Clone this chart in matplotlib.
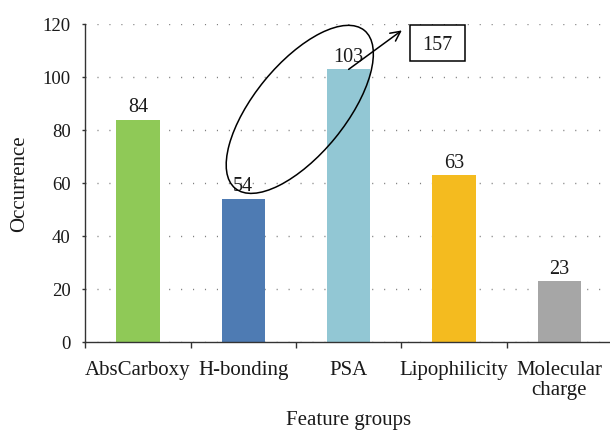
import matplotlib
matplotlib.use("Agg")
import matplotlib.pyplot as plt
from matplotlib.patches import Ellipse, Rectangle
from matplotlib.transforms import ScaledTranslation

# Feature group occurrence counts
categories = ["AbsCarboxy", "H-bonding", "PSA", "Lipophilicity", "Molecular\ncharge"]
occurrence = [84, 54, 103, 63, 23]
bar_colors = ["#8FC957", "#4E7BB3", "#92C7D4", "#F4BB1F", "#A6A6A6"]
y_ticks = [0, 20, 40, 60, 80, 100, 120]

# Combined count of the two circled groups (H-bonding + PSA)
combined = occurrence[1] + occurrence[2]

plt.rcParams["font.family"] = ["Liberation Serif", "DejaVu Serif"]

fig = plt.figure(figsize=(6.10, 4.32), dpi=100)
ax = fig.add_axes([85.3 / 610, 89.7 / 432, (612 - 85.3) / 610, (407.7 - 89.7) / 432])

x = list(range(len(categories)))
bars = ax.bar(x, occurrence, width=0.41, color=bar_colors, zorder=2)

for xi, v in zip(x, occurrence):
    ax.annotate(str(v), xy=(xi, v), xytext=(0, 5.6), textcoords="offset points",
                ha="center", va="baseline", fontsize=14.5, color="#1a1a1a")

ax.set_xlim(-0.5, len(categories) - 0.5)
ax.set_ylim(0, 120)
ax.set_yticks(y_ticks)
ax.set_yticklabels([str(t) for t in y_ticks])

# Category boundaries carry the tick marks, labels sit at the centres
ax.set_xticks([i - 0.5 for i in range(len(categories) + 1)])
ax.set_xticklabels([])
ax.set_xticks(x, minor=True)
ax.set_xticklabels(categories, minor=True, fontsize=15, linespacing=1.08)
ax.tick_params(axis="x", which="major", length=4, width=1, direction="out", color="#333333")
ax.tick_params(axis="x", which="minor", length=0, pad=13.5, labelcolor="#1a1a1a")
ax.tick_params(axis="y", length=2.5, width=1, direction="out", pad=8,
               labelsize=13.5, labelcolor="#1a1a1a", color="#333333")

for side in ("top", "right"):
    ax.spines[side].set_visible(False)
for side in ("left", "bottom"):
    ax.spines[side].set_linewidth(1.0)
    ax.spines[side].set_color("#333333")

ax.set_axisbelow(True)
ax.yaxis.grid(True, color="#808080", linewidth=1.0, linestyle=(0, (0.8, 7.8)))

ax.set_xlabel("Feature groups", fontsize=15, color="#1a1a1a")
ax.xaxis.set_label_coords(0.5, -0.217)
ax.set_ylabel("Occurrence", fontsize=15, color="#1a1a1a", va="center")
ax.yaxis.set_label_coords(-0.124, 0.5)

# Ellipse around the H-bonding and PSA values, sized in inches, centred in data space
ell_offset = fig.dpi_scale_trans + ScaledTranslation(1.536, 87.9, ax.transData)
ax.add_patch(Ellipse((0, 0), 2.04, 0.91, angle=50.7, fill=False, edgecolor="black",
                     linewidth=1.1, transform=ell_offset, clip_on=False, zorder=4))

# Arrow from the PSA bar to the combined total
ax.annotate("", xy=(2.505, 117.7), xytext=(2, occurrence[2]),
            arrowprops=dict(arrowstyle="->,head_length=0.7,head_width=0.35",
                            color="black", linewidth=1.1, shrinkA=0, shrinkB=0),
            annotation_clip=False, zorder=4)

box_offset = fig.dpi_scale_trans + ScaledTranslation(2.845, 112.9, ax.transData)
ax.add_patch(Rectangle((-0.275, -0.178), 0.55, 0.356, fill=True, facecolor="white",
                       edgecolor="black", linewidth=1.1, transform=box_offset,
                       clip_on=False, zorder=4))
ax.text(2.845, 112.9, str(combined), ha="center", va="center_baseline", fontsize=14.5,
        color="#1a1a1a", zorder=5)

fig.savefig("out.png", dpi=100)
